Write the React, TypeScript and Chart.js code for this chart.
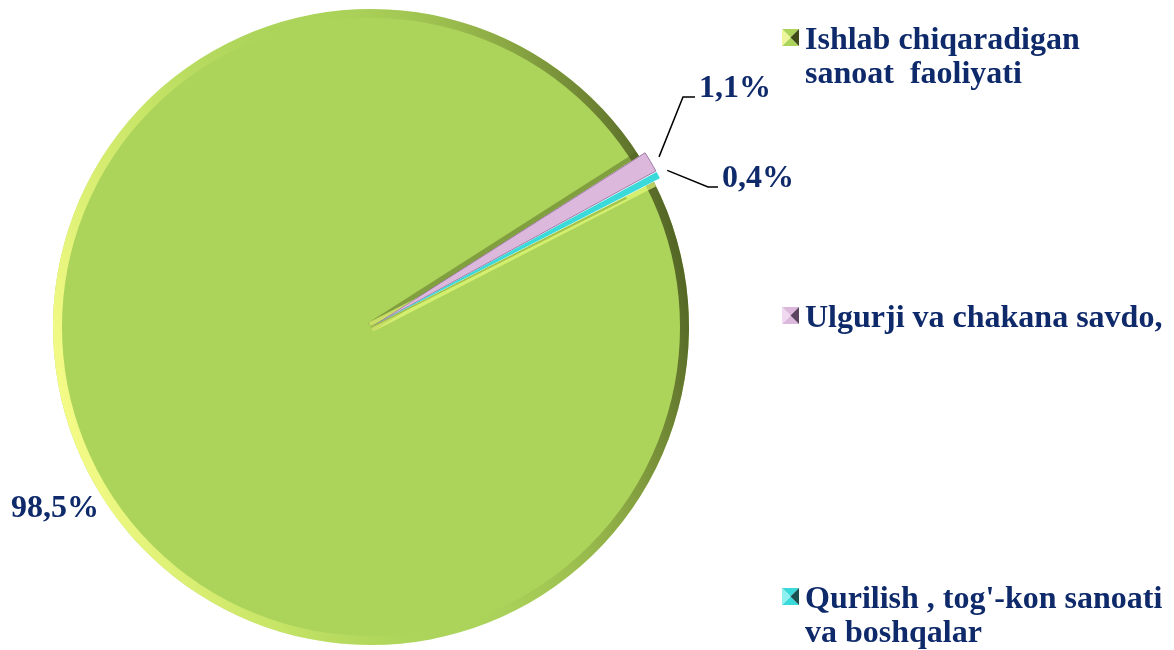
import React, { useEffect, useRef } from "react";
import { Chart, registerables } from "chart.js";

Chart.register(...registerables);

// ---- data ----
const categories = [
  "Ishlab chiqaradigan sanoat  faoliyati",
  "Ulgurji va chakana savdo,",
  "Qurilish , tog'-kon sanoati va boshqalar",
];
const legendLines = [
  ["Ishlab chiqaradigan", "sanoat  faoliyati"],
  ["Ulgurji va chakana savdo,"],
  ["Qurilish , tog'-kon sanoati", "va boshqalar"],
];
const shares = [98.5, 1.1, 0.4];
const valueLabels = ["98,5%", "1,1%", "0,4%"];
const sliceColors = ["#acd45a", "#dcb9dc", "#3adada"];
const markerLight = ["#eef59a", "#f0d8f0", "#8ff0f0"];
const markerDark = ["#3e4a18", "#5a4460", "#1a5050"];

const TEXT_COLOR = "#0f2a6a";
const FONT = "bold 32px 'Liberation Serif', 'Times New Roman', serif";
const LABEL_FONT = "bold 32px 'Liberation Serif', 'Times New Roman', serif";

// layout constants
const LEGEND_X = 782;
const LEGEND_TEXT_X = 805;
const LEGEND_BASELINES = [[49, 83], [327], [608, 642]];
const LEGEND_MARKER_Y = [29, 307, 588];
const MARKER = 17;

// label layout (index -> [elbowX, elbowY, endX, textX, textBaseline])
const LABEL_POS: Record<number, number[]> = {
  1: [683, 97, 695, 699, 97],
  2: [708, 187, 718, 722, 187],
};
const BIG_LABEL_POS = [11, 517];

const arcTip = (el: any) => {
  const p = el.getProps(["x", "y", "startAngle", "endAngle", "outerRadius"], true);
  const off = el.options.offset || 0;
  const circ = p.endAngle - p.startAngle;
  const mid = (p.startAngle + p.endAngle) / 2;
  const r = p.outerRadius + off / 4 + off * (1 - Math.sin(Math.min(Math.PI, circ)));
  return { x: p.x + Math.cos(mid) * r, y: p.y + Math.sin(mid) * r };
};

const shadingPlugin = {
  id: "shading",
  afterDatasetsDraw(chart: any) {
    const ctx = chart.ctx as CanvasRenderingContext2D;
    const meta = chart.getDatasetMeta(0);
    const g = meta.data[0];
    if (!g) return;
    const p = g.getProps(["x", "y", "startAngle", "endAngle", "outerRadius"], true);
    const cx = p.x, cy = p.y, r = p.outerRadius;
    ctx.save();
    ctx.beginPath();
    ctx.moveTo(cx, cy);
    ctx.arc(cx, cy, r, p.startAngle, p.endAngle);
    ctx.closePath();
    ctx.clip();
    // rim bevel
    const grad = ctx.createLinearGradient(cx - r, cy + 0.25 * r, cx + r, cy - 0.25 * r);
    grad.addColorStop(0, "rgba(252,255,140,0.95)");
    grad.addColorStop(0.25, "rgba(225,245,115,0.5)");
    grad.addColorStop(0.5, "rgba(172,212,90,0)");
    grad.addColorStop(0.75, "rgba(100,115,40,0.3)");
    grad.addColorStop(1, "rgba(55,65,20,0.8)");
    ctx.strokeStyle = grad;
    ctx.lineWidth = 10;
    ctx.beginPath();
    ctx.arc(cx, cy, r - 4, 0, Math.PI * 2);
    ctx.stroke();
    // radial edge bevels
    const edge = (ang: number, color: string, w: number, len: number) => {
      ctx.strokeStyle = color;
      ctx.lineWidth = w;
      ctx.beginPath();
      ctx.moveTo(cx, cy);
      ctx.lineTo(cx + Math.cos(ang) * len, cy + Math.sin(ang) * len);
      ctx.stroke();
    };
    edge(p.endAngle, "rgba(80,95,30,0.45)", 10, r);
    edge(p.startAngle, "rgba(230,250,120,0.7)", 10, r);
    const back = (p.startAngle + p.endAngle) / 2 + Math.PI + (3 * Math.PI) / 180;
    edge(back, "rgba(120,160,50,0.55)", 2, r * 0.9);
    ctx.restore();
  },
};

const labelPlugin = {
  id: "labels",
  afterDraw(chart: any) {
    const ctx = chart.ctx as CanvasRenderingContext2D;
    const meta = chart.getDatasetMeta(0);
    ctx.save();
    ctx.font = LABEL_FONT;
    ctx.fillStyle = TEXT_COLOR;
    ctx.textBaseline = "alphabetic";
    ctx.textAlign = "left";
    // leader lines and small labels
    meta.data.forEach((el: any, i: number) => {
      const pos = LABEL_POS[i];
      if (!pos) return;
      const tip = arcTip(el);
      ctx.strokeStyle = "#000000";
      ctx.lineWidth = 1.5;
      ctx.beginPath();
      ctx.moveTo(tip.x, tip.y);
      ctx.lineTo(pos[0], pos[1]);
      ctx.lineTo(pos[2], pos[1]);
      ctx.stroke();
      ctx.fillText(valueLabels[i], pos[3], pos[4]);
    });
    ctx.fillText(valueLabels[0], BIG_LABEL_POS[0], BIG_LABEL_POS[1]);

    // legend
    ctx.font = FONT;
    legendLines.forEach((lines, i) => {
      const x = LEGEND_X, y = LEGEND_MARKER_Y[i], s = MARKER;
      const cxm = x + s / 2, cym = y + s / 2;
      const tri = (ax: number, ay: number, bx: number, by: number, c: string) => {
        ctx.fillStyle = c;
        ctx.beginPath();
        ctx.moveTo(ax, ay);
        ctx.lineTo(bx, by);
        ctx.lineTo(cxm, cym);
        ctx.closePath();
        ctx.fill();
      };
      tri(x, y, x + s, y, sliceColors[i]);
      tri(x, y + s, x + s, y + s, sliceColors[i]);
      tri(x, y, x, y + s, markerLight[i]);
      tri(x + s, y, x + s, y + s, markerDark[i]);
      ctx.fillStyle = TEXT_COLOR;
      lines.forEach((t, j) => ctx.fillText(t, LEGEND_TEXT_X, LEGEND_BASELINES[i][j]));
    });
    ctx.restore();
  },
};

export default function App() {
  const ref = useRef<HTMLCanvasElement | null>(null);
  useEffect(() => {
    if (!ref.current) return;
    const chart = new Chart(ref.current, {
      type: "pie",
      data: {
        labels: categories,
        datasets: [
          {
            data: shares,
            backgroundColor: sliceColors,
            borderColor: ["#acd45a", "#9c7aa4", "#22b0b0"],
            borderWidth: [0, 1, 0],
            offset: [0, 14, 14],
            hoverOffset: 0,
            radius: 318,
          } as any,
        ],
      },
      options: {
        responsive: false,
        animation: false,
        rotation: 62.85,
        layout: { padding: { left: 53, right: 485, top: 9, bottom: 5 } },
        plugins: {
          legend: { display: false },
          tooltip: { enabled: false },
        },
        events: [],
      },
      plugins: [shadingPlugin, labelPlugin],
    });
    return () => chart.destroy();
  }, []);
  return (
    <div style={{ position: "absolute", left: 0, top: 0, width: 1174, height: 650, background: "#ffffff" }}>
      <canvas ref={ref} width={1174} height={650} style={{ display: "block", width: 1174, height: 650 }} />
    </div>
  );
}
